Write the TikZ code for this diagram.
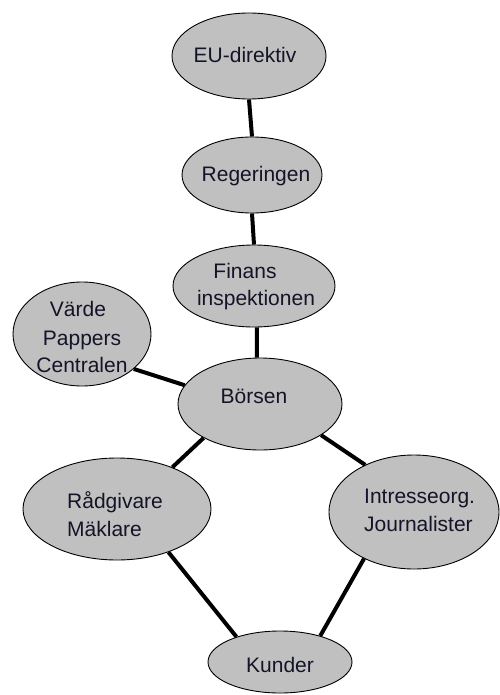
\documentclass[tikz,border=0pt]{standalone}
\usepackage{fontspec}
\setmainfont{Liberation Sans}
\usetikzlibrary{shapes.geometric}
\definecolor{bubblegray}{HTML}{C0C0C0}
\definecolor{inktext}{HTML}{141428}
\begin{document}
\begin{tikzpicture}[x=1pt,y=-1pt,
  bubble/.style={ellipse,draw=black,line width=0.9pt,fill=bubblegray,inner sep=0pt},
  lbl/.style={font=\fontsize{21}{27}\selectfont,text=inktext,inner sep=0pt,anchor=base},
  lblw/.style={lbl,anchor=base west},
  link/.style={line width=4pt}]
\useasboundingbox (0,0) rectangle (499,695);
% bubbles
\node[bubble,minimum width=154pt,minimum height=86pt] (eu) at (249,56) {};
\node[bubble,minimum width=140pt,minimum height=76pt] (reg) at (252,175) {};
\node[bubble,minimum width=162pt,minimum height=82pt] (fin) at (254,286) {};
\node[bubble,minimum width=138pt,minimum height=104pt] (vpc) at (82,334) {};
\node[bubble,minimum width=164pt,minimum height=92pt] (bor) at (260,404) {};
\node[bubble,minimum width=188pt,minimum height=102pt] (rad) at (117,509) {};
\node[bubble,minimum width=170pt,minimum height=114pt] (intr) at (414,512) {};
\node[bubble,minimum width=144pt,minimum height=62pt] (kun) at (280,662) {};
% connectors
\draw[link] (eu.south) -- (reg.north);
\draw[link] (reg.south) -- (fin.north);
\draw[link] (fin.-86) -- (bor.94);
\draw[link] (vpc.326) -- (bor.166);
\draw[link] (bor.211) -- (rad.37);
\draw[link] (bor.333) -- (intr.136);
\draw[link] (rad.320) -- (kun.150);
\draw[link] (intr.223) -- (kun.33);
% labels
\node[lbl] (teu) at (245,63) {EU-direktiv};
\node[lbl] (treg) at (256,182) {Regeringen};
\node[lbl] (tfin1) at (245,278) {Finans};
\node[lbl] (tfin2) at (256,305) {inspektionen};
\node[lbl] (tvpc1) at (78,316) {Värde};
\node[lbl] (tvpc2) at (82,345) {Pappers};
\node[lbl] (tvpc3) at (82,372) {Centralen};
\node[lbl] (tbor) at (254,403) {Börsen};
\node[lblw] (trad1) at (67,508) {Rådgivare};
\node[lblw] (trad2) at (67,536) {Mäklare};
\node[lblw] (tintr1) at (364,503) {Intresseorg.};
\node[lblw] (tintr2) at (364,531) {Journalister};
\node[lbl] (tkun) at (280,672) {Kunder};
\end{tikzpicture}
\end{document}
